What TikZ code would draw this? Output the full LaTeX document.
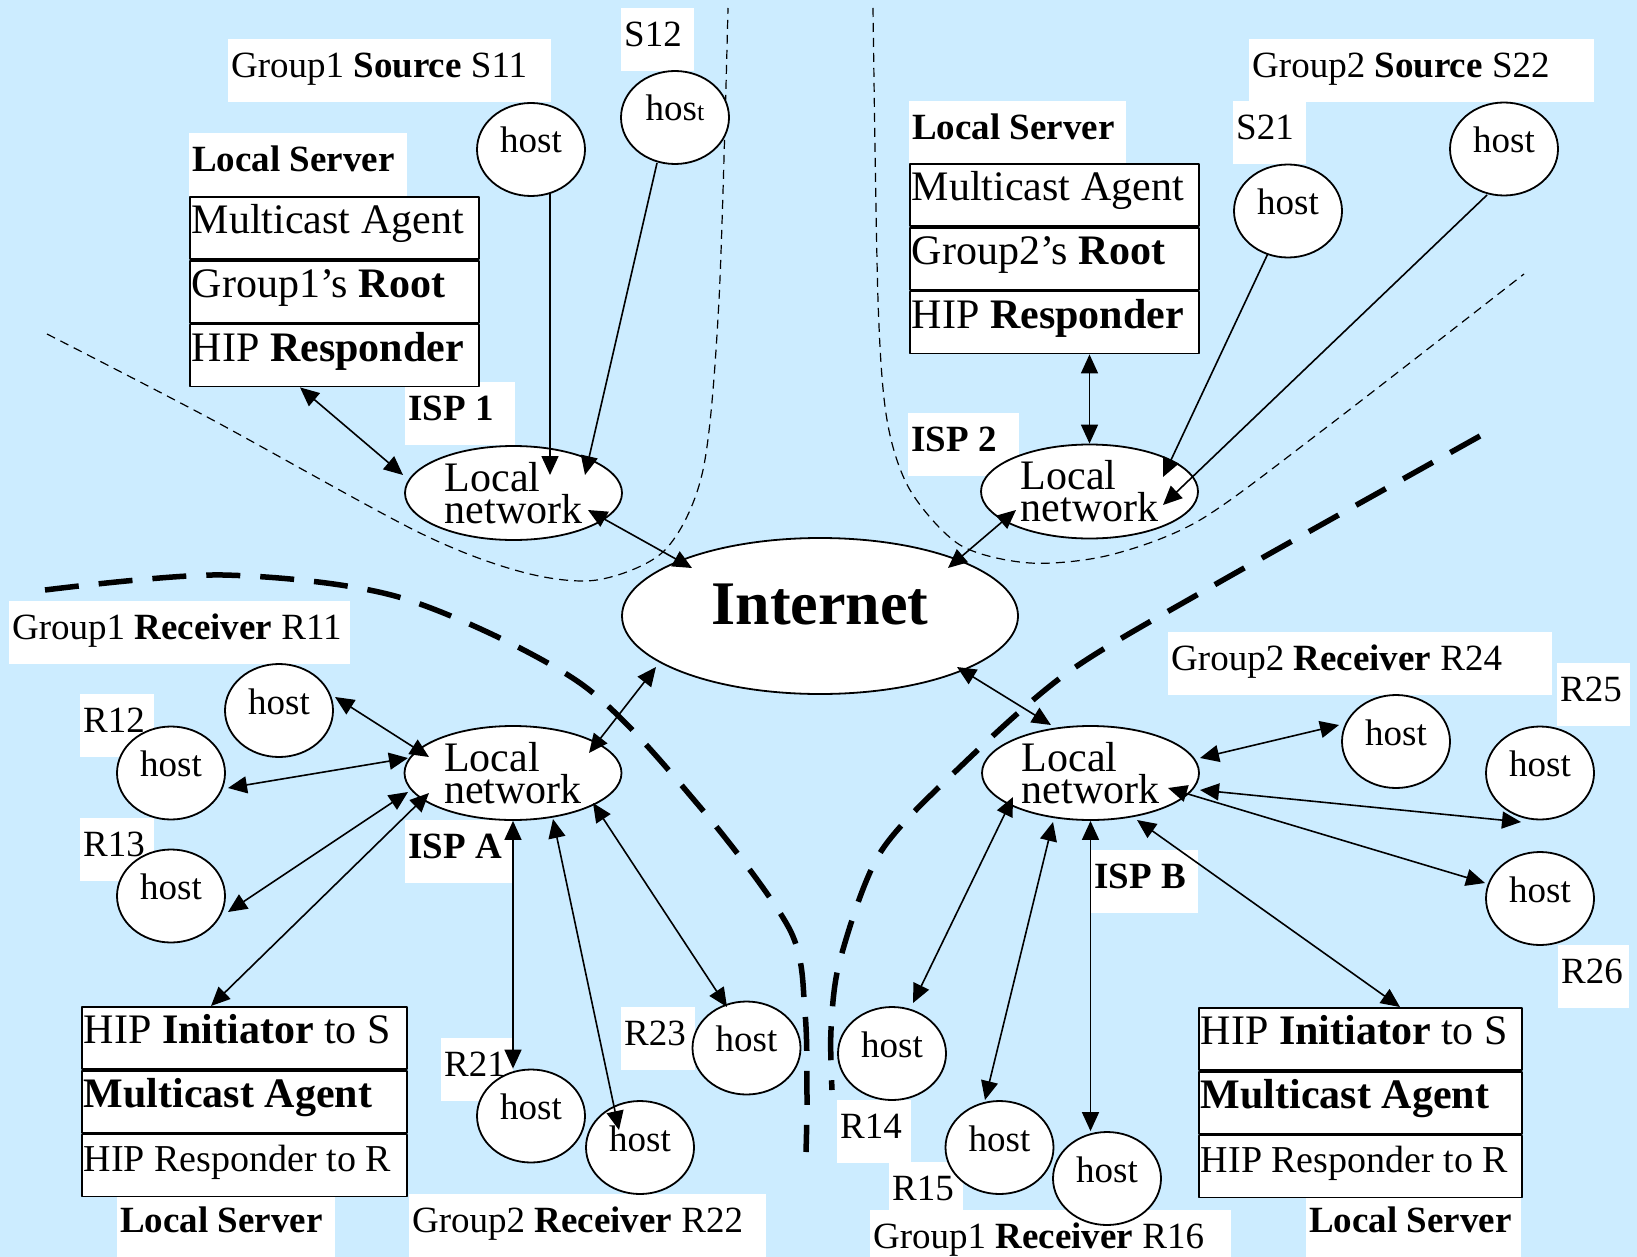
\documentclass[tikz,border=0pt]{standalone}
\usepackage{fontspec}
\setmainfont{Liberation Serif}
\usetikzlibrary{arrows.meta,shapes.geometric}
\definecolor{skyback}{RGB}{204,236,255}
\begin{document}
\begin{tikzpicture}[x=1pt, y=-1pt, line join=round,
    >={Triangle[length=19pt,width=17pt]},
    host/.style={draw, fill=white, ellipse, line width=1.8pt, minimum width=108pt, minimum height=93pt, inner sep=0pt, text height=25pt, text depth=18pt, font=\fontsize{37}{37}\selectfont},
    net/.style={draw, fill=white, ellipse, line width=1.8pt, minimum width=217pt, minimum height=94pt, inner sep=0pt, align=left, font=\fontsize{42}{32}\selectfont},
    core/.style={draw, fill=white, ellipse, line width=1.8pt, minimum width=396pt, minimum height=156pt, inner sep=0pt, text height=42pt, text depth=26pt, font=\fontsize{62}{62}\selectfont\bfseries},
    tag/.style={fill=white, anchor=north west, inner xsep=3pt, inner ysep=0pt, text width=#1, text height=38pt, text depth=25pt, align=flush left, font=\fontsize{37}{37}\selectfont},
    cell/.style={draw, fill=white, line width=1.8pt, anchor=north west, inner xsep=2pt, inner ysep=0pt, text width=#1, text height=37pt, text depth=25pt, align=flush left, font=\fontsize{42}{42}\selectfont},
    link/.style={<->, line width=1.6pt},
    feed/.style={->, line width=1.6pt},
    fine border/.style={line width=1.2pt, dash pattern=on 9pt off 6pt},
    bold border/.style={line width=5.5pt, dash pattern=on 34pt off 20pt}]
  \useasboundingbox (0,0) rectangle (1637,1257);
  \fill[skyback] (0,0) rectangle (1637,1257);
  \clip (0,0) rectangle (1637,1257);

  \draw[fine border] plot[smooth] coordinates {(47,334) (209,418) (418,532) (522,572) (597,580) (665,550) (703,470) (719,300) (728,8)};
  \draw[fine border] plot[smooth] coordinates {(873,8) (878,300) (887,420) (910,490) (960,545) (1030,563) (1110,555) (1200,520) (1323,430) (1524,274)};
  \draw[bold border] plot[smooth] coordinates {(45,590) (223,575) (402,598) (580,683) (700,807) (790,930) (805,1013) (807,1097) (806,1152)};
  \draw[bold border] plot[smooth] coordinates {(1480,436) (1209,588) (1067,673) (960,767) (880,853) (840,960) (831,1030) (832,1090)};

  \node[tag=317pt] (g1src) at (228,39) {Group1 \textbf{Source} S11};
  \node[tag=67pt] (s12tag) at (621,8) {S12};
  \node[tag=212pt] (srv1) at (189,133) {\textbf{Local Server}};
  \node[tag=104pt] (isp1) at (405,382) {\textbf{ISP 1}};
  \node[tag=211pt] (srv2) at (909,101) {\textbf{Local Server}};
  \node[tag=67pt] (s21tag) at (1233,101) {S21};
  \node[tag=339pt] (g2src) at (1249,39) {Group2 \textbf{Source} S22};
  \node[tag=105pt] (isp2) at (908,413) {\textbf{ISP 2}};
  \node[tag=335pt] (g1rcv) at (9,601) {Group1 \textbf{Receiver} R11};
  \node[tag=68pt] (r12tag) at (80,694) {R12};
  \node[tag=68pt] (r13tag) at (80,818) {R13};
  \node[tag=101pt] (ispA) at (405,820) {\textbf{ISP A}};
  \node[tag=378pt] (g2rcv) at (1168,632) {Group2 \textbf{Receiver} R24};
  \node[tag=67pt] (r25tag) at (1557,663) {R25};
  \node[tag=65pt] (r26tag) at (1558,945) {R26};
  \node[tag=101pt] (ispB) at (1091,850) {\textbf{ISP B}};
  \node[tag=66pt] (r21tag) at (441,1038) {R21};
  \node[tag=68pt] (r23tag) at (621,1007) {R23};
  \node[tag=351pt] (g2r22) at (409,1194) {Group2 \textbf{Receiver} R22};
  \node[tag=212pt] (srvA) at (117,1194) {\textbf{Local Server}};
  \node[tag=68pt] (r14tag) at (837,1100) {R14};
  \node[tag=68pt] (r15tag) at (889,1162) {R15};
  \node[tag=355pt] (g1r16) at (870,1210) {Group1 \textbf{Receiver} R16};
  \node[tag=209pt] (srvB) at (1306,1194) {\textbf{Local Server}};

  \node[cell=285pt] (ma1) at (189,196) {Multicast Agent};
  \node[cell=285pt] (rt1) at (ma1.south west) {Group1's \textbf{Root}};
  \node[cell=285pt] (hr1) at (rt1.south west) {HIP \textbf{Responder}};
  \node[cell=285pt] (ma2) at (909,163) {Multicast Agent};
  \node[cell=285pt] (rt2) at (ma2.south west) {Group2's \textbf{Root}};
  \node[cell=285pt] (hr2) at (rt2.south west) {HIP \textbf{Responder}};
  \node[cell=321pt] (ini1) at (81,1006) {HIP \textbf{Initiator} to S};
  \node[cell=321pt] (mab1) at (ini1.south west) {\textbf{Multicast Agent}};
  \node[cell=321pt] (hrr1) at (mab1.south west) {\fontsize{38}{38}\selectfont HIP Responder to R};
  \node[cell=319pt] (ini2) at (1198,1007) {HIP \textbf{Initiator} to S};
  \node[cell=319pt] (mab2) at (ini2.south west) {\textbf{Multicast Agent}};
  \node[cell=319pt] (hrr2) at (mab2.south west) {\fontsize{38}{38}\selectfont HIP Responder to R};

  \foreach \n/\x/\y in {s11/531/149.5, s21/1288/211, s22/1504/149, r11/279/710.5, r12/171/773, r13/171/896,
      r21/531/1116, r22/640/1147.5, r23/746.5/1048, r24/1396/741.5, r25/1540/773, r26/1540/898.5,
      r14/892/1053.5, r15/999.5/1147.5, r16/1107/1178.5}
    \node[host] (\n) at (\x,\y) {host};
  \node[host] (s12) at (675,117.5) {hos{\fontsize{26}{26}\selectfont t}};

  \node[net] (net1) at (513.5,493) {Local\\network};
  \node[net] (net2) at (1089.5,491.5) {Local\\network};
  \node[net] (netA) at (513,773) {Local\\network};
  \node[net] (netB) at (1090.5,773) {Local\\network};
  \node[core] (inet) at (820,616) {Internet};

  \draw[feed] ([shift={(19,44)}]s11.center) -- ([shift={(36.5,-18)}]net1.center);
  \draw[feed] ([shift={(-18,45.5)}]s12.center) -- ([shift={(71.5,-18)}]net1.center);
  \draw[link] ([xshift=111pt]hr1.south west) -- ([shift={(-110.5,-18)}]net1.center);
  \draw[link] ([shift={(74.5,17)}]net1.center) -- ([shift={(-128,-48)}]inet.center);
  \draw[link] (net2.north |- hr2.south) -- (net2.north);
  \draw[feed] ([shift={(-20.5,43.5)}]s21.center) -- ([shift={(73.5,-14.5)}]net2.center);
  \draw[feed] ([shift={(-17,46)}]s22.center) -- ([shift={(73.5,13.5)}]net2.center);
  \draw[link] ([shift={(-73.5,18.5)}]net2.center) -- ([shift={(128,-48)}]inet.center);
  \draw[link] ([shift={(76,-20)}]netA.center) -- ([shift={(-164,51)}]inet.center);
  \draw[link] ([shift={(56,-13.5)}]r11.center) -- ([shift={(-84,-16)}]netA.center);
  \draw[link] ([shift={(57,15)}]r12.center) -- ([shift={(-105,-15)}]netA.center);
  \draw[link] ([shift={(57,16)}]r13.center) -- ([shift={(-105,19)}]netA.center);
  \draw[link] ([shift={(-84,20)}]netA.center) -- ([xshift=130pt]ini1.north west);
  \draw[link] (netA.south) -- (netA.south |- r21.north);
  \draw[link] ([shift={(40,46)}]netA.center) -- ([shift={(-21,-17.5)}]r22.center);
  \draw[link] ([shift={(80,30)}]netA.center) -- ([shift={(-19.5,-41)}]r23.center);
  \draw[link] ([shift={(137,51)}]inet.center) -- ([shift={(-39.5,-48)}]netB.center);
  \draw[link] ([shift={(109.5,-15)}]netB.center) -- ([shift={(-57,-16.5)}]r24.center);
  \draw[link] ([shift={(109.5,17)}]netB.center) -- ([shift={(-19,49)}]r25.center);
  \draw[link] ([shift={(77.5,15)}]netB.center) -- ([shift={(-55,-15.5)}]r26.center);
  \draw[link] ([shift={(-77.5,24)}]netB.center) -- ([shift={(21,-50.5)}]r14.center);
  \draw[link] ([shift={(-37.5,49)}]netB.center) -- ([shift={(-14.5,-47.5)}]r15.center);
  \draw[link] (netB.south) -- (netB.south |- r16.north);
  \draw[link] ([shift={(46.5,47)}]netB.center) -- ([xshift=202pt]ini2.north west);
\end{tikzpicture}
\end{document}
